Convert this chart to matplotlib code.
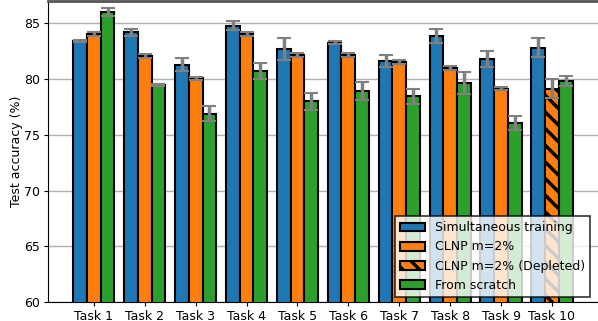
import numpy as np
import matplotlib
matplotlib.use('Agg')
import matplotlib.pyplot as plt

tasks = [f'Task {i}' for i in range(1, 11)]
simultaneous = [83.4, 84.2, 81.3, 84.8, 82.7, 83.25, 81.65, 83.85, 81.8, 82.8]
simultaneous_err = [0.1, 0.3, 0.6, 0.4, 0.95, 0.15, 0.55, 0.6, 0.7, 0.85]
clnp = [84.05, 82.05, 80.05, 84.05, 82.15, 82.15, 81.55, 81.0, 79.15, 79.15]
clnp_err = [0.2, 0.2, 0.15, 0.2, 0.15, 0.15, 0.2, 0.15, 0.15, 0.85]
scratch = [86.0, 79.45, 76.9, 80.7, 78.0, 78.95, 78.45, 79.65, 76.05, 79.85]
scratch_err = [0.35, 0.1, 0.65, 0.7, 0.75, 0.8, 0.65, 1.0, 0.65, 0.45]
depleted = [False] * 9 + [True]

BLUE, ORANGE, GREEN = '#1f77b4', '#ff7f0e', '#2ca02c'

plt.rcParams['font.size'] = 9
plt.rcParams['hatch.linewidth'] = 2.5
plt.rcParams['xtick.major.size'] = 3
plt.rcParams['ytick.major.size'] = 3

fig = plt.figure(figsize=(5.98, 3.21), dpi=100)
ax = fig.add_axes([48 / 598, 19 / 321, 560 / 598, 1 - 20 / 321])

x = np.arange(len(tasks))
w = 0.27
err_kw = dict(ecolor='gray', elinewidth=2.5, capsize=5, capthick=1.5)
ax.bar(x - w, simultaneous, w, yerr=simultaneous_err, color=BLUE,
       edgecolor='black', linewidth=1.5, error_kw=err_kw, zorder=3,
       label='Simultaneous training')
normal = [i for i in x if not depleted[i]]
dep = [i for i in x if depleted[i]]
ax.bar(x[normal], [clnp[i] for i in normal], w,
       yerr=[clnp_err[i] for i in normal], color=ORANGE, edgecolor='black',
       linewidth=1.5, error_kw=err_kw, zorder=3, label='CLNP m=2%')
ax.bar(x[dep], [clnp[i] for i in dep], w, yerr=[clnp_err[i] for i in dep],
       color=ORANGE, edgecolor='black', linewidth=1.5, hatch='\\\\',
       error_kw=err_kw, zorder=3, label='CLNP m=2% (Depleted)')
ax.bar(x + w, scratch, w, yerr=scratch_err, color=GREEN, edgecolor='black',
       linewidth=1.5, error_kw=err_kw, zorder=3, label='From scratch')

ax.set_xticks(x)
ax.set_xticklabels(tasks)
ax.tick_params(axis='both', pad=2.5)
ax.set_xlim(-0.9, 10.1)
ax.set_ylim(60, 87)
ax.set_yticks([60, 65, 70, 75, 80, 85])
ax.set_ylabel('Test accuracy (%)', labelpad=1)
ax.yaxis.grid(True, color='#b0b0b0', linewidth=1, zorder=0)
ax.set_axisbelow(True)
ax.spines['top'].set_color('#555555')
ax.spines['top'].set_linewidth(2)

leg = ax.legend(loc='lower right', bbox_to_anchor=(0.968, 5 / 301),
                borderaxespad=0, framealpha=0.8, fancybox=False)
leg.get_frame().set_edgecolor('black')
leg.get_frame().set_linewidth(1.2)

fig.savefig('out.png', dpi=100)
